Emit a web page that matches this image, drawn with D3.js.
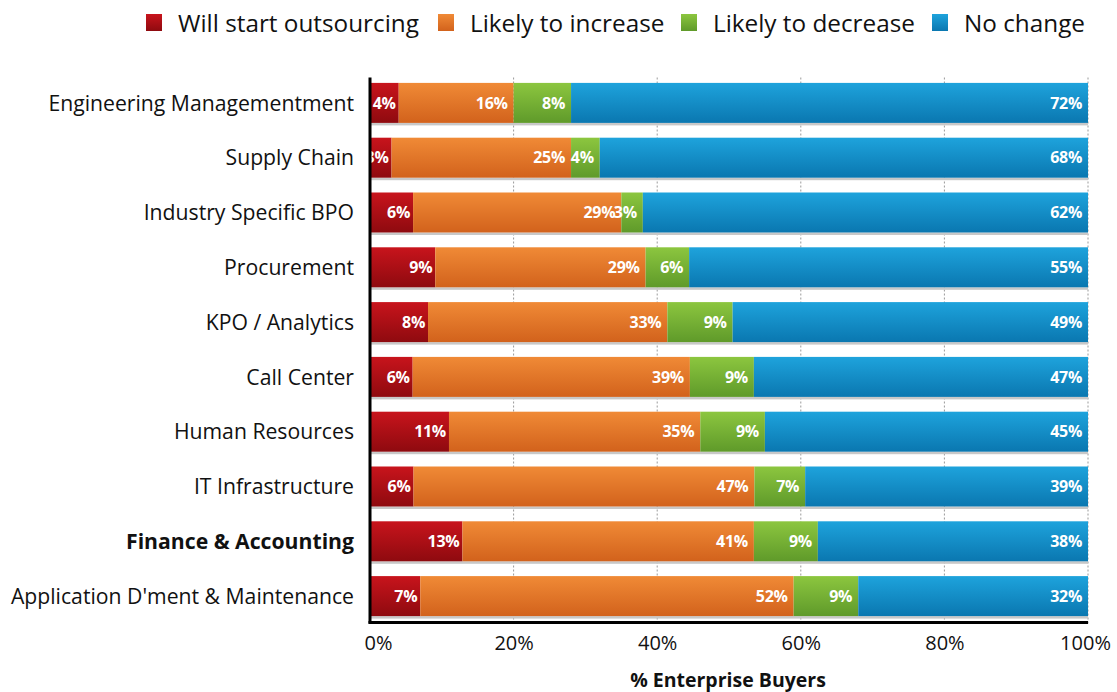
<!DOCTYPE html>
<html>
<head>
<meta charset="utf-8">
<script src="https://cdn.jsdelivr.net/npm/d3@7"></script>
<style>
  html, body { margin: 0; padding: 0; background: #fff; }
  svg { display: block; font-family: "Open Sans", "DejaVu Sans", sans-serif; }
</style>
</head>
<body>
<svg id="chart" width="1117" height="692"></svg>
<script>
// Outsourcing outlook by function (% of enterprise buyers)
const categories = [
  "Engineering Managementment",
  "Supply Chain",
  "Industry Specific BPO",
  "Procurement",
  "KPO / Analytics",
  "Call Center",
  "Human Resources",
  "IT Infrastructure",
  "Finance & Accounting",
  "Application D'ment & Maintenance"
];
const seriesNames = ["Will start outsourcing", "Likely to increase", "Likely to decrease", "No change"];
const willStart = [4, 3, 6, 9, 8, 6, 11, 6, 13, 7];
const likelyIncrease = [16, 25, 29, 29, 33, 39, 35, 47, 41, 52];
const likelyDecrease = [8, 4, 3, 6, 9, 9, 9, 7, 9, 9];
const noChange = [72, 68, 62, 55, 49, 47, 45, 39, 38, 32];
const xTicks = [0, 0.2, 0.4, 0.6, 0.8, 1];
const boldCategory = "Finance & Accounting";

const colors = [
  ["#c8141c", "#8e0a0f"],
  ["#f08a36", "#d2621c"],
  ["#8cc63f", "#5f9a2a"],
  ["#1ea3dc", "#0a77b0"]
];

const rows = categories.map((c, i) => ({
  category: c,
  [seriesNames[0]]: willStart[i],
  [seriesNames[1]]: likelyIncrease[i],
  [seriesNames[2]]: likelyDecrease[i],
  [seriesNames[3]]: noChange[i]
}));

const svg = d3.select("#chart");
const margin = { left: 370, right: 1088, top: 75.5, bottom: 623.5 };

const x = d3.scaleLinear().domain([0, 1]).range([margin.left, margin.right]);
const y = d3.scaleBand().domain(categories).range([margin.top, margin.bottom])
  .paddingInner(0.27).paddingOuter(0.135);

const stacked = d3.stack().keys(seriesNames).offset(d3.stackOffsetExpand)(rows);

// vertical gradients for the bar segments
const defs = svg.append("defs");
colors.forEach((c, i) => {
  const g = defs.append("linearGradient").attr("id", "grad" + i)
    .attr("x1", 0).attr("y1", 0).attr("x2", 0).attr("y2", 1);
  g.append("stop").attr("offset", "0%").attr("stop-color", c[0]);
  g.append("stop").attr("offset", "100%").attr("stop-color", c[1]);
});

// dashed gridlines
svg.append("g")
  .selectAll("line")
  .data(xTicks.filter(t => t > 0))
  .join("line")
  .attr("x1", d => x(d)).attr("x2", d => x(d))
  .attr("y1", margin.top + 2).attr("y2", margin.bottom)
  .attr("stroke", "#9a9a9a").attr("stroke-width", 1)
  .attr("stroke-dasharray", "2,2");

// light shadow under each bar
svg.append("g")
  .selectAll("rect")
  .data(categories)
  .join("rect")
  .attr("x", x(0)).attr("width", x(1) - x(0))
  .attr("y", d => y(d) + y.bandwidth())
  .attr("height", 2.5)
  .attr("fill", "#c8c8c8");

// stacked bars
const layer = svg.append("g")
  .selectAll("g")
  .data(stacked)
  .join("g")
  .attr("fill", (d, i) => `url(#grad${i})`);

layer.selectAll("rect")
  .data(d => d.map(p => ({ p, cat: p.data.category })))
  .join("rect")
  .attr("x", d => x(d.p[0]))
  .attr("width", d => x(d.p[1]) - x(d.p[0]))
  .attr("y", d => y(d.cat))
  .attr("height", y.bandwidth());

// value labels, right-aligned inside each segment
stacked.forEach((s, si) => {
  svg.append("g")
    .selectAll("text")
    .data(s)
    .join("text")
    .attr("x", p => x(p[1]) - (si === 0 ? 3 : 6))
    .attr("y", p => y(p.data.category) + y.bandwidth() / 2)
    .attr("dy", "0.36em")
    .attr("text-anchor", "end")
    .attr("fill", "#fff")
    .attr("font-weight", 700)
    .attr("font-size", 16)
    .attr("letter-spacing", -0.3)
    .text(p => p.data[s.key] + "%");
});

// category axis labels
svg.append("g")
  .selectAll("text")
  .data(categories)
  .join("text")
  .attr("x", 354)
  .attr("y", d => y(d) + y.bandwidth() / 2)
  .attr("dy", "0.36em")
  .attr("text-anchor", "end")
  .attr("fill", "#111")
  .attr("font-size", 21.2)
  .attr("font-weight", d => d === boldCategory ? 700 : 400)
  .text(d => d);

// x axis
const xAxis = svg.append("g")
  .attr("transform", `translate(0,${margin.bottom})`)
  .call(d3.axisBottom(x).tickValues(xTicks).tickFormat(d3.format(".0%")).tickSize(0).tickPadding(12));
xAxis.select(".domain").remove();
xAxis.selectAll("text")
  .attr("font-family", "\"Open Sans\", sans-serif")
  .attr("font-size", 20)
  .attr("fill", "#111")
  .attr("dx", d => d === 0 ? 8 : (d === 1 ? -3 : 0));

// axis frame lines
svg.append("line")
  .attr("x1", x(0)).attr("x2", x(0))
  .attr("y1", margin.top + 2).attr("y2", margin.bottom)
  .attr("stroke", "#000").attr("stroke-width", 3);
svg.append("line")
  .attr("x1", x(0) - 1.5).attr("x2", x(1))
  .attr("y1", margin.bottom - 1).attr("y2", margin.bottom - 1)
  .attr("stroke", "#000").attr("stroke-width", 3);

// axis title
svg.append("text")
  .attr("x", 728).attr("y", 687)
  .attr("text-anchor", "middle")
  .attr("font-weight", 700)
  .attr("font-size", 19.5)
  .attr("fill", "#111")
  .text("% Enterprise Buyers");

// legend
const legendX = [146, 438, 681, 932];
const legend = svg.append("g")
  .selectAll("g")
  .data(seriesNames)
  .join("g")
  .attr("transform", (d, i) => `translate(${legendX[i]},14)`);
legend.append("rect")
  .attr("width", 16).attr("height", 17)
  .attr("fill", (d, i) => `url(#grad${i})`);
legend.append("text")
  .attr("x", 32).attr("y", 9).attr("dy", "0.36em")
  .attr("font-size", 24.3)
  .attr("fill", "#111")
  .text(d => d);
</script>
</body>
</html>
